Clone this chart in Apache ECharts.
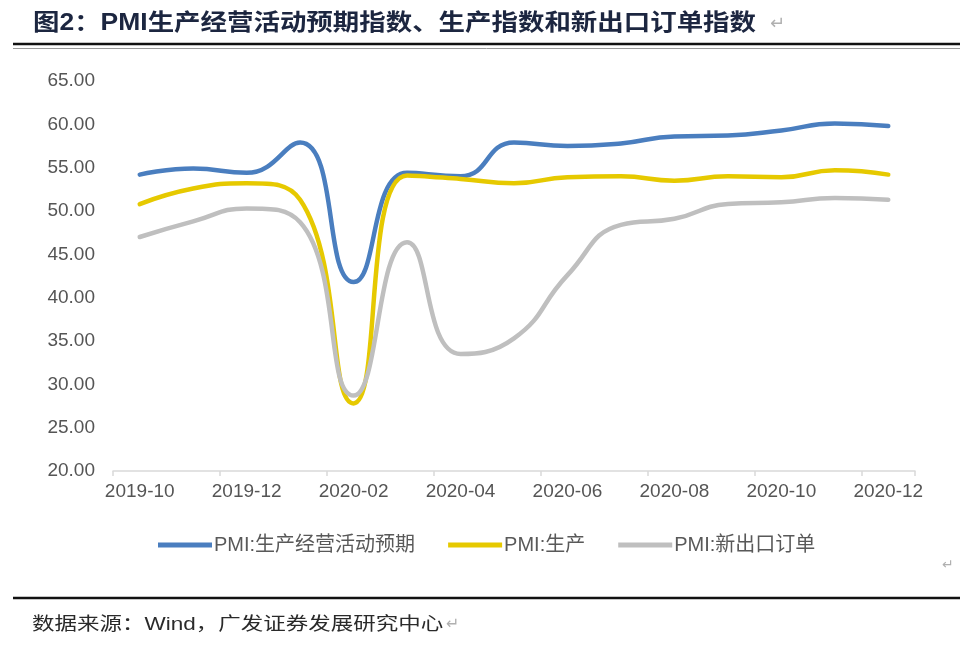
<!DOCTYPE html>
<html>
<head>
<meta charset="utf-8">
<script src="https://cdn.jsdelivr.net/npm/echarts@6/dist/echarts.min.js"></script>
<style>
  html, body { margin: 0; padding: 0; background: #ffffff; }
  #chart { width: 960px; height: 668px; }
</style>
</head>
<body>
<div id="chart"></div>
<script>
const titleText = '图2：PMI生产经营活动预期指数、生产指数和新出口订单指数';
const sourceText = '数据来源：Wind，广发证券发展研究中心';
const categories = ['2019-10','2019-11','2019-12','2020-01','2020-02','2020-03','2020-04','2020-05','2020-06','2020-07','2020-08','2020-09','2020-10','2020-11','2020-12'];
const seriesNames = ['PMI:生产经营活动预期', 'PMI:生产', 'PMI:新出口订单'];
const expectValues = [54.2, 54.9, 54.4, 57.9, 41.8, 54.4, 54.0, 57.9, 57.5, 57.8, 58.6, 58.7, 59.3, 60.1, 59.8];
const productionValues = [50.8, 52.6, 53.2, 51.3, 27.8, 54.1, 53.7, 53.2, 53.9, 54.0, 53.5, 54.0, 53.9, 54.7, 54.2];
const exportOrderValues = [47.0, 48.8, 50.3, 48.7, 28.7, 46.4, 33.5, 35.3, 42.6, 48.4, 49.1, 50.8, 51.0, 51.5, 51.3];
const yMin = 20, yMax = 65, yStep = 5;

const colors = ['#4a7ebf', '#e6c900', '#bfbfbf'];
const latin = 'Liberation Sans, Arial, "Noto Sans CJK SC", sans-serif';

const chart = echarts.init(document.getElementById('chart'), null, { renderer: 'canvas' });

function makeSeries(name, data, color) {
  return {
    name: name,
    type: 'line',
    data: data,
    smooth: 0.5,
    symbol: 'none',
    lineStyle: { color: color, width: 4.5, cap: 'round', join: 'round' },
    itemStyle: { color: color },
    emphasis: { disabled: true }
  };
}

chart.setOption({
  animation: false,
  backgroundColor: '#ffffff',
  grid: { left: 113, right: 45, top: 81, bottom: 197, containLabel: false },
  legend: {
    left: 153,
    top: 530,
    itemWidth: 54,
    itemHeight: 5,
    itemGap: 33,
    icon: 'rect',
    textStyle: { fontSize: 20, color: '#595959', fontFamily: latin, padding: [0, 0, 0, -3] },
    data: seriesNames
  },
  xAxis: {
    type: 'category',
    data: categories,
    boundaryGap: true,
    axisLine: { show: true, lineStyle: { color: '#d9d9d9', width: 1.5 } },
    axisTick: { show: true, interval: 1, length: 5, lineStyle: { color: '#d9d9d9', width: 1.5 } },
    axisLabel: { interval: 1, fontSize: 19, color: '#555555', fontFamily: latin, margin: 11 },
    splitLine: { show: false }
  },
  yAxis: {
    type: 'value',
    min: yMin,
    max: yMax,
    interval: yStep,
    axisLine: { show: false },
    axisTick: { show: false },
    splitLine: { show: false },
    axisLabel: {
      fontSize: 19, color: '#555555', fontFamily: latin, margin: 18,
      formatter: v => v.toFixed(2)
    }
  },
  series: [
    makeSeries(seriesNames[0], expectValues, colors[0]),
    makeSeries(seriesNames[1], productionValues, colors[1]),
    makeSeries(seriesNames[2], exportOrderValues, colors[2])
  ],
  graphic: [
    {
      type: 'text', left: 33, top: 12, scaleX: 1.15,
      style: { text: titleText, fontSize: 23, fontWeight: 'bold', fill: '#1c2640',
               fontFamily: 'Liberation Sans, "Noto Sans CJK SC", sans-serif' }
    },
    {
      type: 'text', left: 770, top: 15,
      style: { text: '↵', fontSize: 18, fill: '#b0b0b0', fontFamily: '"DejaVu Sans", sans-serif' }
    },
    { type: 'line', shape: { x1: 13, y1: 44, x2: 960, y2: 44 }, style: { stroke: '#111111', lineWidth: 2.5 } },
    { type: 'line', shape: { x1: 13, y1: 48.5, x2: 960, y2: 48.5 }, style: { stroke: '#9a9a9a', lineWidth: 1 } },
    {
      type: 'text', left: 942, top: 558,
      style: { text: '↵', fontSize: 14, fill: '#b0b0b0', fontFamily: '"DejaVu Sans", sans-serif' }
    },
    { type: 'line', shape: { x1: 13, y1: 598, x2: 960, y2: 598 }, style: { stroke: '#111111', lineWidth: 2.5 } },
    {
      type: 'text', left: 32, top: 616, scaleX: 1.25,
      style: { text: sourceText, fontSize: 18, fill: '#2a2a2a',
               fontFamily: 'Liberation Sans, "Noto Sans CJK SC", sans-serif' }
    },
    {
      type: 'text', left: 446, top: 617,
      style: { text: '↵', fontSize: 16, fill: '#b0b0b0', fontFamily: '"DejaVu Sans", sans-serif' }
    }
  ]
});
</script>
</body>
</html>
